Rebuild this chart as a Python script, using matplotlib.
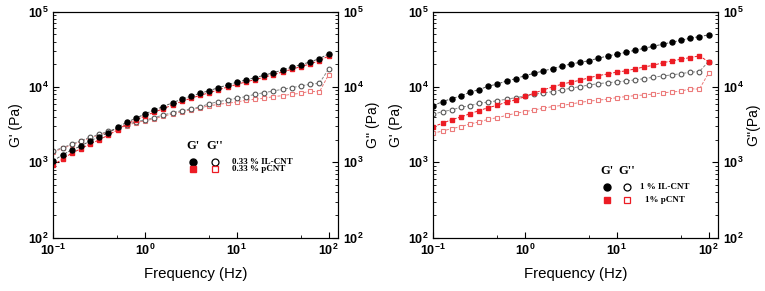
import math
import matplotlib
matplotlib.use('Agg')
import matplotlib.pyplot as plt
from matplotlib.ticker import LogLocator, FuncFormatter, NullFormatter

plt.rcParams['font.family'] = ['Liberation Sans', 'DejaVu Sans']
plt.rcParams['mathtext.fontset'] = 'custom'
plt.rcParams['mathtext.rm'] = 'Liberation Sans'
plt.rcParams['mathtext.bf'] = 'Liberation Sans:bold'

# frequency sweep (Hz), 10 points per decade
freq = [0.1, 0.126, 0.158, 0.2, 0.251, 0.316, 0.398, 0.501, 0.631, 0.794,
        1.0, 1.26, 1.58, 2.0, 2.51, 3.16, 3.98, 5.01, 6.31, 7.94,
        10.0, 12.6, 15.8, 20.0, 25.1, 31.6, 39.8, 50.1, 63.1, 79.4, 100.0]

# left panel: 0.33 %
gp_il_033 = [1054, 1254, 1461, 1651, 1923, 2193, 2480, 2924, 3405, 3850,
             4400, 4970, 5500, 6210, 6890, 7550, 8260, 8950, 9820, 10660,
             11560, 12420, 13330, 14350, 15520, 16850, 18320, 19830, 21530, 23830, 27500]
gpp_il_033 = [1416, 1567, 1738, 1942, 2153, 2360, 2588, 2838, 3140, 3470,
              3656, 3926, 4260, 4570, 4860, 5117, 5450, 6000, 6400, 6740,
              7100, 7460, 8020, 8430, 8870, 9350, 9820, 10350, 10890, 11220, 17220]
gp_p_033 = [923, 1109, 1320, 1521, 1754, 1982, 2310, 2692, 3236, 3656,
            4130, 4650, 5150, 5800, 6450, 7100, 7750, 8400, 9200, 10000,
            10850, 11700, 12550, 13500, 14600, 15900, 17200, 18700, 20300, 22400, 25800]
gpp_p_033 = [1380, 1530, 1700, 1900, 2100, 2310, 2530, 2780, 3060, 3380,
             3560, 3800, 4100, 4400, 4700, 5000, 5330, 5610, 5900, 6090,
             6340, 6670, 6890, 7100, 7460, 7690, 8020, 8260, 8800, 8600, 14480]

# right panel: 1 %
gp_il_1 = [5660, 6400, 7010, 7620, 8530, 9250, 10260, 10990, 12040, 12930,
           14170, 15240, 16360, 17550, 18870, 20270, 21200, 22420, 24110, 25870,
           27220, 28950, 30780, 32720, 34800, 37000, 39350, 41820, 44460, 46700, 49200]
gpp_il_1 = [4350, 4710, 4970, 5390, 5660, 6090, 6300, 6600, 6890, 7230,
            7620, 8020, 8350, 8690, 9150, 9640, 10140, 10660, 11090, 11430,
            11690, 12050, 12420, 12940, 13490, 14030, 14480, 15070, 15710, 16030, 21740]
gp_p_1 = [2980, 3300, 3690, 4000, 4430, 4860, 5330, 5730, 6340, 6740,
          7500, 8300, 9150, 10030, 10900, 11600, 12300, 13300, 14190, 14900,
          15800, 16400, 17400, 18500, 19450, 21000, 22200, 23400, 24600, 25900, 21700]
gpp_p_1 = [2435, 2610, 2800, 2980, 3235, 3440, 3730, 3930, 4200, 4490,
           4710, 4970, 5230, 5500, 5700, 5930, 6250, 6500, 6700, 6900,
           7230, 7460, 7690, 7850, 8090, 8350, 8610, 8790, 9500, 9350, 15250]

legend_033 = ['0.33 % IL-CNT', '0.33 % pCNT']
legend_1 = ['1 % IL-CNT', '1% pCNT']

RED = '#ec1c24'
LRED = '#ec7a7a'
DASH = (0, (3, 1.5))
TICK_FS = 9
SERIF = ['Liberation Serif', 'DejaVu Serif']


def pow_fmt(v, pos):
    e = int(round(math.log10(v)))
    return r'$\mathbf{10^{%d}}$' % e


def style_log_y(ax):
    ax.set_yscale('log')
    ax.set_ylim(100, 1e5)
    ax.yaxis.set_major_locator(LogLocator(base=10, numticks=10))
    ax.yaxis.set_minor_locator(LogLocator(base=10, subs=range(2, 10), numticks=10))
    ax.yaxis.set_major_formatter(FuncFormatter(pow_fmt))
    ax.yaxis.set_minor_formatter(NullFormatter())


def draw_panel(ax, gp_il, gpp_il, gp_p, gpp_p, ylab_right):
    ax.plot(freq, gpp_p, ls=DASH, lw=0.7, color=LRED, marker='s', ms=3.0,
            mfc='white', mec=LRED, mew=0.8)
    ax.plot(freq, gpp_il, ls=DASH, lw=0.7, color='#888888', marker='o', ms=3.4,
            mfc='white', mec='#555555', mew=0.8)
    ax.plot(freq, gp_p, ls=DASH, lw=0.7, color=RED, marker='s', ms=3.2,
            mfc=RED, mec=RED)
    ax.plot(freq, gp_il, ls=DASH, lw=0.7, color='#555555', marker='o', ms=3.6,
            mfc='black', mec='black')
    ax.set_xscale('log')
    ax.set_xlim(0.1, 126)
    style_log_y(ax)
    ax.xaxis.set_major_locator(LogLocator(base=10, numticks=10))
    ax.xaxis.set_minor_locator(LogLocator(base=10, subs=[5], numticks=10))
    ax.xaxis.set_major_formatter(FuncFormatter(pow_fmt))
    ax.xaxis.set_minor_formatter(NullFormatter())
    ax.tick_params(which='both', direction='in', top=False, right=False, labelsize=TICK_FS)
    ax.tick_params(which='major', length=4, width=0.8)
    ax.tick_params(which='minor', length=2, width=0.6)
    ax.tick_params(axis='x', pad=4)
    ax.set_xlabel('Frequency (Hz)', fontsize=10.8, labelpad=6)
    ax.set_ylabel("G' (Pa)", fontsize=10, labelpad=3)

    ax2 = ax.twinx()
    style_log_y(ax2)
    ax2.tick_params(which='both', direction='in', labelsize=TICK_FS)
    ax2.tick_params(which='major', length=4, width=0.8)
    ax2.tick_params(which='minor', length=2, width=0.6)
    ax2.set_ylabel(ylab_right, fontsize=10, labelpad=2)
    return ax2


def draw_key(ax, x0, x1, xt, ys, labels):
    # hand-made key: G' / G'' columns, then one row per sample
    ytop, y1, y2 = ys
    ax.text(x0, ytop, "G'", transform=ax.transAxes, ha='center', va='center',
            fontsize=9, fontweight='bold', family=SERIF)
    ax.text(x1, ytop, "G''", transform=ax.transAxes, ha='center', va='center',
            fontsize=9, fontweight='bold', family=SERIF)
    ax.plot([x0], [y1], transform=ax.transAxes, marker='o', ms=5, color='black', ls='none')
    ax.plot([x1], [y1], transform=ax.transAxes, marker='o', ms=5, mfc='white',
            mec='black', mew=0.9, ls='none')
    ax.plot([x0], [y2], transform=ax.transAxes, marker='s', ms=4.6, color=RED, ls='none')
    ax.plot([x1], [y2], transform=ax.transAxes, marker='s', ms=4.6, mfc='white',
            mec=RED, mew=0.9, ls='none')
    ax.text(xt[0], y1, labels[0], transform=ax.transAxes, ha='left', va='center',
            fontsize=6.5, fontweight='bold', family=SERIF)
    ax.text(xt[1], y2, labels[1], transform=ax.transAxes, ha='left', va='center',
            fontsize=6.5, fontweight='bold', family=SERIF)


fig = plt.figure(figsize=(7.65, 2.91), dpi=100)
axL = fig.add_axes([0.0697, 0.1832, 0.3718, 0.7766])
axR = fig.add_axes([0.5664, 0.1832, 0.3718, 0.7766])

draw_panel(axL, gp_il_033, gpp_il_033, gp_p_033, gpp_p_033, "G'' (Pa)")
draw_panel(axR, gp_il_1, gpp_il_1, gp_p_1, gpp_p_1, "G''(Pa)")

draw_key(axL, 0.491, 0.568, (0.628, 0.628), (0.406, 0.335, 0.304), legend_033)
draw_key(axR, 0.610, 0.680, (0.727, 0.744), (0.296, 0.223, 0.167), legend_1)

fig.savefig('out.png', dpi=100)
